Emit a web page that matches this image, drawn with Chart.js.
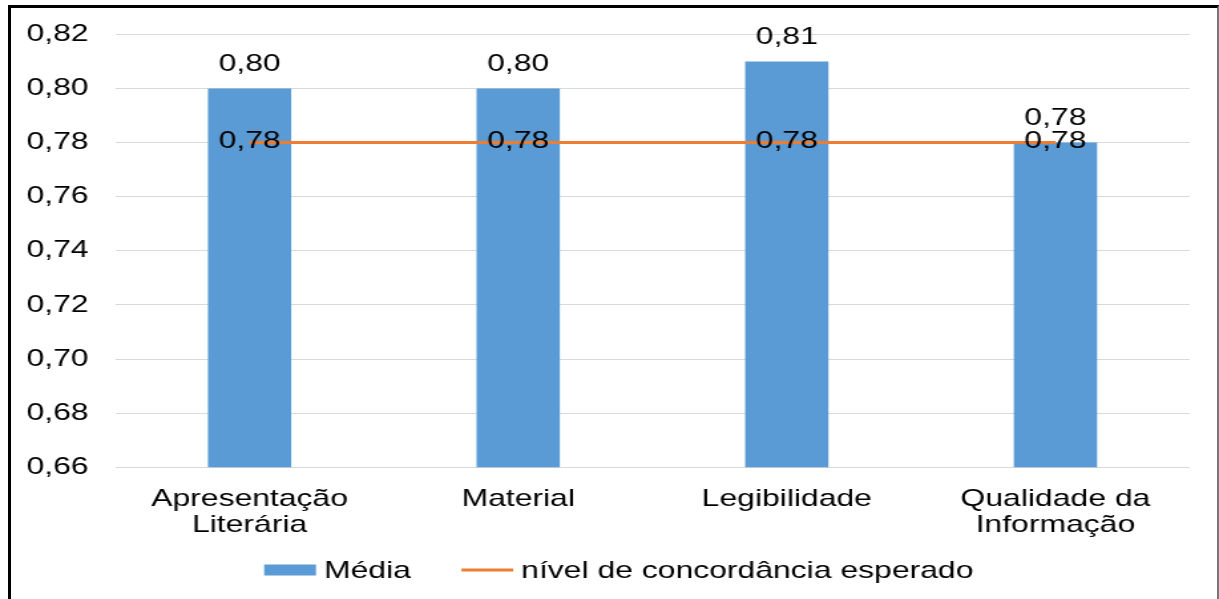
<!DOCTYPE html>
<html>
<head>
<meta charset="utf-8">
<script src="https://cdn.jsdelivr.net/npm/chart.js@4.4.1/dist/chart.umd.min.js"></script>
<style>
  html, body { margin: 0; padding: 0; background: #fff; overflow: hidden; }
  #wrap { position: absolute; left: 0; top: 0; width: 917px; height: 599px; transform: scaleX(1.3293); transform-origin: 0 0; }
  #frame { position: absolute; left: 8px; top: 5px; width: 1206px; height: 700px; border-left: 3px solid #000; border-top: 3px solid #000; border-right: 2px solid #777; pointer-events: none; }
</style>
</head>
<body>
<div id="wrap"><canvas id="chartgraph" width="917" height="599"></canvas></div>
<div id="frame"></div>
<script>
// categorias e valores
const categories = [
  ["Apresentação", "Literária"],
  "Material",
  "Legibilidade",
  ["Qualidade da", "Informação"],
];
const media = [0.80, 0.80, 0.81, 0.78];
const nivelEsperado = [0.78, 0.78, 0.78, 0.78];
const yMin = 0.66;
const yMax = 0.82;
const yStep = 0.02;

const FONT = "24px 'Liberation Sans', Arial, sans-serif";
const fmt = (v) => Number(v).toFixed(2).replace(".", ",");

/** rótulos de valor (sem plugin externo) */
const valueLabels = {
  id: "valueLabels",
  afterDatasetsDraw(chart) {
    const { ctx } = chart;
    ctx.save();
    ctx.font = FONT;
    ctx.fillStyle = "#000";
    ctx.textAlign = "center";
    ctx.textBaseline = "middle";
    chart.data.datasets.forEach((ds, i) => {
      const meta = chart.getDatasetMeta(i);
      meta.data.forEach((el, j) => {
        const y = ds.type === "line" ? el.y - 1 : el.y - 24;
        ctx.fillText(fmt(ds.data[j]), el.x, y);
      });
    });
    ctx.restore();
  },
};

/** legenda desenhada à mão, abaixo dos rótulos do eixo x */
const bottomLegend = {
  id: "bottomLegend",
  afterDraw(chart) {
    const { ctx } = chart;
    ctx.save();
    ctx.font = FONT;
    ctx.textBaseline = "middle";
    ctx.textAlign = "left";
    const symW = 39, symGap = 6, itemGap = 38;
    const items = chart.data.datasets.map((ds) => ({
      ds,
      w: symW + symGap + ctx.measureText(ds.label).width,
    }));
    const total = items.reduce((s, it) => s + it.w, 0) + itemGap * (items.length - 1);
    let x = chart.width / 2 + 7 - total / 2;
    const y = chart.height - 29;
    items.forEach(({ ds, w }) => {
      if (ds.type === "line") {
        ctx.strokeStyle = ds.borderColor;
        ctx.lineWidth = 3;
        ctx.beginPath();
        ctx.moveTo(x, y);
        ctx.lineTo(x + symW, y);
        ctx.stroke();
      } else {
        ctx.fillStyle = ds.backgroundColor;
        ctx.fillRect(x, y - 5.5, symW, 11);
      }
      ctx.fillStyle = "#000";
      ctx.fillText(ds.label, x + symW + symGap, y + 1);
      x += w + itemGap;
    });
    ctx.restore();
  },
};

const ctx = document.getElementById("chartgraph").getContext("2d");
const chart = new Chart(ctx, {
  type: "bar",
  plugins: [valueLabels, bottomLegend],
  data: {
    labels: categories,
    datasets: [
      {
        label: "Média",
        data: media,
        backgroundColor: "#5B9BD5",
        borderWidth: 0,
        barPercentage: 0.31,
        categoryPercentage: 1,
        order: 2,
      },
      {
        type: "line",
        label: "nível de concordância esperado",
        data: nivelEsperado,
        borderColor: "#ED7D31",
        backgroundColor: "#ED7D31",
        borderWidth: 3,
        pointRadius: 0,
        fill: false,
        order: 1,
      },
    ],
  },
  options: {
    responsive: false,
    animation: false,
    layout: { padding: { left: 0, right: 22, top: 31, bottom: 49 } },
    plugins: {
      tooltip: { enabled: false },
      legend: { display: false },
    },
    scales: {
      x: {
        grid: { display: false },
        border: { display: false },
        ticks: {
          color: "#000",
          padding: 11,
          maxRotation: 0,
          autoSkip: false,
          font: { size: 24, family: "'Liberation Sans', Arial, sans-serif", lineHeight: 1.1 },
        },
      },
      y: {
        min: yMin,
        max: yMax,
        grid: { color: "#D9D9D9", lineWidth: 1, drawTicks: false },
        border: { display: false },
        ticks: {
          stepSize: yStep,
          padding: 20,
          color: "#000",
          font: { size: 24, family: "'Liberation Sans', Arial, sans-serif" },
          callback: (v) => fmt(v),
        },
      },
    },
  },
});
</script>
</body>
</html>
